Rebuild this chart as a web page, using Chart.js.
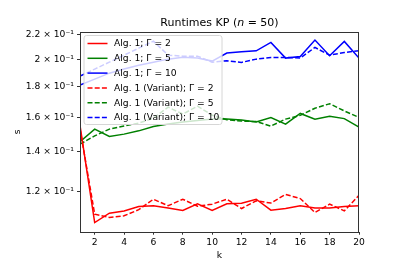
<!DOCTYPE html>
<html>
<head>
<meta charset="utf-8">
<script src="https://cdn.jsdelivr.net/npm/chart.js@4/dist/chart.umd.min.js"></script>
<style>
body{margin:0;background:#fff;}
</style>
</head>
<body>
<canvas id="runtimeChart" width="399" height="266"></canvas>
<script>
// k values
const ks = [1,2,3,4,5,6,7,8,9,10,11,12,13,14,15,16,17,18,19,20];

// Alg. 1
const alg1G2  = [0.155, 0.1067, 0.1106, 0.1115, 0.1135, 0.1138, 0.1128, 0.1118, 0.1147, 0.1118, 0.1147, 0.1149, 0.1167, 0.1119, 0.1126, 0.1138, 0.1128, 0.1128, 0.1135, 0.1138];
const alg1G5  = [0.1456, 0.1528, 0.1486, 0.1499, 0.1518, 0.1543, 0.1558, 0.1570, 0.1579, 0.1588, 0.1588, 0.1582, 0.1571, 0.1597, 0.1558, 0.1623, 0.1588, 0.1606, 0.1591, 0.1540];
const alg1G10 = [0.1810, 0.1852, 0.1895, 0.1925, 0.1954, 0.1977, 0.2000, 0.2015, 0.2008, 0.1985, 0.2047, 0.2057, 0.2065, 0.2133, 0.2008, 0.2021, 0.2152, 0.2026, 0.2141, 0.2008];

// Alg. 1 (Variant)
const varG2  = [0.153, 0.1102, 0.1088, 0.1095, 0.1121, 0.1167, 0.1138, 0.1167, 0.1136, 0.1145, 0.1167, 0.1126, 0.1160, 0.1150, 0.1189, 0.1170, 0.1109, 0.1145, 0.1116, 0.1185];
const varG5  = [0.1442, 0.1489, 0.1528, 0.1546, 0.1564, 0.1594, 0.1663, 0.1619, 0.1669, 0.1612, 0.1584, 0.1576, 0.1573, 0.1546, 0.1588, 0.1611, 0.1656, 0.1685, 0.1639, 0.1598];
const varG10 = [0.1873, 0.1925, 0.1977, 0.2031, 0.2086, 0.2143, 0.2031, 0.2023, 0.2023, 0.1977, 0.1987, 0.1975, 0.2000, 0.2013, 0.2013, 0.2008, 0.2092, 0.2031, 0.2052, 0.2065];

// ticks
const xTicks = [2,4,6,8,10,12,14,16,18,20];
const yTicks = [0.12, 0.14, 0.16, 0.18, 0.20, 0.22];
const yTickLabels = ["1.2 × 10⁻¹","1.4 × 10⁻¹","1.6 × 10⁻¹","1.8 × 10⁻¹","2 × 10⁻¹","2.2 × 10⁻¹"];

const FONT = "'DejaVu Sans', sans-serif";

function pts(arr){
    return ks.map((k,i)=>({x:k, y:arr[i]}));
}
function ds(label, arr, color, dashed){
    return {
        label: label,
        data: pts(arr),
        borderColor: color,
        backgroundColor: color,
        borderWidth: 1.5,
        borderDash: dashed ? [5, 2.2] : [],
        pointRadius: 0,
        tension: 0,
        fill: false
    };
}

// frame + title + legend, drawn like matplotlib
const mplExtras = {
    id: 'mplExtras',
    afterDatasetsDraw(chart){
        const ctx = chart.ctx;
        const a = chart.chartArea;
        ctx.save();

        // legend box
        const bx = 84, by = 35.5, bw = 138, bh = 89, r = 2.5;
        ctx.beginPath();
        ctx.moveTo(bx + r, by);
        ctx.arcTo(bx + bw, by, bx + bw, by + bh, r);
        ctx.arcTo(bx + bw, by + bh, bx, by + bh, r);
        ctx.arcTo(bx, by + bh, bx, by, r);
        ctx.arcTo(bx, by, bx + bw, by, r);
        ctx.closePath();
        ctx.fillStyle = 'rgba(255,255,255,0.8)';
        ctx.fill();
        ctx.strokeStyle = '#d6d6d6';
        ctx.lineWidth = 1;
        ctx.stroke();

        ctx.font = "9.2px " + FONT;
        ctx.textBaseline = 'middle';
        ctx.textAlign = 'left';
        chart.data.datasets.forEach((d, i) => {
            const y = 43.5 + i * 14.8;
            ctx.beginPath();
            ctx.setLineDash(d.borderDash);
            ctx.strokeStyle = d.borderColor;
            ctx.lineWidth = 1.5;
            ctx.moveTo(87.5, y);
            ctx.lineTo(107.5, y);
            ctx.stroke();
            ctx.setLineDash([]);
            ctx.fillStyle = '#000';
            ctx.fillText(d.label, 114, y + 0.5);
        });

        // axes frame
        ctx.strokeStyle = '#333';
        ctx.lineWidth = 1;
        ctx.strokeRect(Math.round(a.left) + 0.5, Math.round(a.top) + 0.5,
            Math.round(a.right - a.left) - 1, Math.round(a.bottom - a.top));

        // title with italic n
        const p1 = "Runtimes KP (", p2 = "n", p3 = " = 50)";
        ctx.fillStyle = '#000';
        ctx.textBaseline = 'alphabetic';
        ctx.font = "11px " + FONT;
        const w1 = ctx.measureText(p1).width;
        const w3 = ctx.measureText(p3).width;
        ctx.font = "italic 11px " + FONT;
        const w2 = ctx.measureText(p2).width;
        let x = (a.left + a.right) / 2 - (w1 + w2 + w3) / 2;
        const ty = 25.5;
        ctx.font = "11px " + FONT;
        ctx.fillText(p1, x, ty);
        ctx.font = "italic 11px " + FONT;
        ctx.fillText(p2, x + w1, ty);
        ctx.font = "11px " + FONT;
        ctx.fillText(p3, x + w1 + w2, ty);

        ctx.restore();
    }
};

const ctx = document.getElementById("runtimeChart");
const runtimeChart = new Chart(ctx, {
    type: 'line',
    data: {
        datasets: [
            ds("Alg. 1; Γ = 2", alg1G2, 'rgb(255,0,0)', false),
            ds("Alg. 1; Γ = 5", alg1G5, 'rgb(0,128,0)', false),
            ds("Alg. 1; Γ = 10", alg1G10, 'rgb(0,0,255)', false),
            ds("Alg. 1 (Variant); Γ = 2", varG2, 'rgb(255,0,0)', true),
            ds("Alg. 1 (Variant); Γ = 5", varG5, 'rgb(0,128,0)', true),
            ds("Alg. 1 (Variant); Γ = 10", varG10, 'rgb(0,0,255)', true)
        ]
    },
    options: {
        responsive: false,
        devicePixelRatio: 1,
        animation: false,
        layout: {padding: {top: 32, right: 40, left: 0, bottom: 0}},
        plugins: {
            legend: {display: false},
            title: {display: false},
            tooltip: {enabled: false}
        },
        scales: {
            x: {
                type: 'linear',
                min: 1,
                max: 20,
                afterFit: (s) => { s.height = 34.3; },
                afterBuildTicks: (s) => { s.ticks = xTicks.map(v => ({value: v})); },
                grid: {display: true, drawOnChartArea: false, drawTicks: true, tickLength: 3, color: '#333'},
                border: {display: false},
                ticks: {
                    autoSkip: false,
                    maxRotation: 0,
                    padding: 2,
                    color: '#000',
                    font: {family: FONT, size: 9.2}
                },
                title: {
                    display: true,
                    text: 'k',
                    color: '#000',
                    font: {family: FONT, size: 9.2},
                    padding: {top: 0, bottom: 4.5}
                }
            },
            y: {
                type: 'logarithmic',
                min: 0.103,
                max: 0.222,
                afterFit: (s) => { s.width = 80; },
                afterBuildTicks: (s) => { s.ticks = yTicks.map(v => ({value: v})); },
                grid: {display: true, drawOnChartArea: false, drawTicks: true, tickLength: 3, color: '#333'},
                border: {display: false},
                ticks: {
                    autoSkip: false,
                    padding: 3,
                    color: '#000',
                    font: {family: FONT, size: 9.2},
                    callback: (value, index) => yTickLabels[index]
                },
                title: {
                    display: true,
                    text: 's',
                    color: '#000',
                    font: {family: FONT, size: 9.2},
                    padding: {top: 12.5, bottom: 0}
                }
            }
        }
    },
    plugins: [mplExtras]
});
</script>
</body>
</html>
